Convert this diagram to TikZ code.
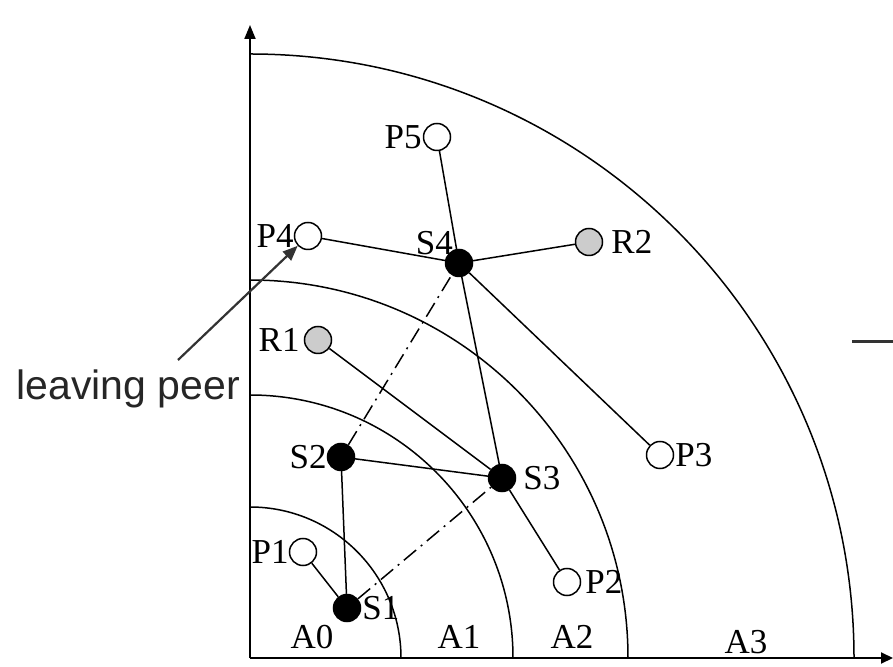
\documentclass[tikz,border=0pt]{standalone}
\usepackage{fontspec}
\setmainfont{Liberation Serif}
\setsansfont{Liberation Sans}
\usetikzlibrary{arrows.meta,positioning}
\begin{document}
\begin{tikzpicture}[x=1pt, y=1pt,
    peer/.style={circle, draw, line width=1.5pt, fill=white, minimum size=27pt, inner sep=0pt},
    super/.style={peer, fill=black},
    relay/.style={peer, fill=gray!40},
    lbl/.style={inner sep=0pt, font=\fontsize{35}{35}\selectfont},
    link/.style={line width=1.5pt},
    backup/.style={line width=1.5pt, dash pattern=on 16pt off 6pt on 2pt off 6pt}]

    \useasboundingbox (-250,-8) rectangle (643,658);

    % axes
    \draw[line width=2pt, -{Triangle[length=14pt,width=11pt]}] (0,0) -- (0,633);
    \draw[line width=2pt, -{Triangle[length=12pt,width=11pt]}] (0,0) -- (643,0);

    % rings A0..A3
    \foreach \r in {151, 263, 378, 604}
        \draw[line width=1.5pt] (0,\r) arc (90:0:\r);

    \node[lbl, anchor=base] (a0) at (62,10) {A0};
    \node[lbl, anchor=base] (a1) at (209,10) {A1};
    \node[lbl, anchor=base] (a2) at (322,10) {A2};
    \node[lbl, anchor=base] (a3) at (496,5) {A3};

    % peers
    \node[peer]  (p1) at (53,106) {};
    \node[super] (s1) at (97,50) {};
    \node[super] (s2) at (91,201) {};
    \node[super] (s3) at (252,180) {};
    \node[super] (s4) at (209,395) {};
    \node[peer]  (p4) at (58,422) {};
    \node[peer]  (p5) at (187,521) {};
    \node[relay] (r2) at (339,416) {};
    \node[relay] (r1) at (68,318) {};
    \node[peer]  (p3) at (410,203) {};
    \node[peer]  (p2) at (317,76) {};

    \node[lbl, left=0pt of p1] (p1l) {P1};
    \node[lbl, right=1pt of s1] (s1l) {S1};
    \node[lbl, left=0pt of s2] (s2l) {S2};
    \node[lbl, right=7pt of s3] (s3l) {S3};
    \node[lbl, anchor=base east] (s4l) at (203,403) {S4};
    \node[lbl, left=0pt of p4] (p4l) {P4};
    \node[lbl, left=1pt of p5] (p5l) {P5};
    \node[lbl, right=8pt of r2] (r2l) {R2};
    \node[lbl, left=4pt of r1] (r1l) {R1};
    \node[lbl, right=1pt of p3] (p3l) {P3};
    \node[lbl, right=4pt of p2] (p2l) {P2};

    % overlay links
    \foreach \a/\b in {p1/s1, s1/s2, s2/s3, s3/s4, s4/p4, s4/p5, s4/r2, s4/p3, r1/s3, s3/p2}
        \draw[link] (\a) -- (\b);
    \draw[backup] (s1) -- (s3);
    \draw[backup] (s2) -- (s4);

    % leaving peer
    \coordinate (leave) at (-72,298);
    \draw[black!80, line width=2.2pt, -{Triangle[length=15pt,width=12pt]}] (leave) -- (p4);
    \node[anchor=base east, font=\sffamily\fontsize{41}{41}\selectfont, text=black!85, inner sep=0pt]
        (leavel) at (-10,258) {leaving peer};

    \draw[black!80, line width=3pt] (602,316) -- (643,316);
\end{tikzpicture}
\end{document}
